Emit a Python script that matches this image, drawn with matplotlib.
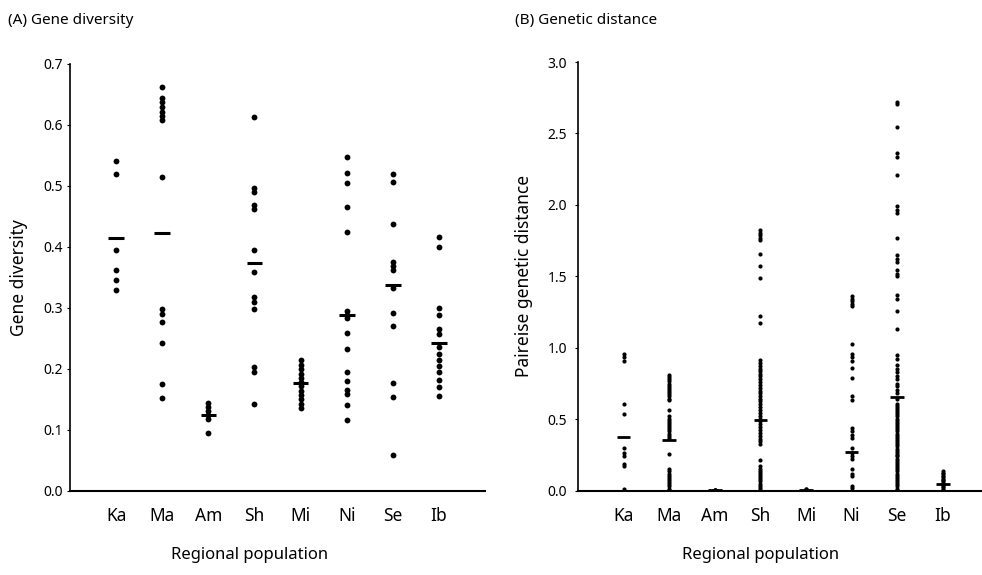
import numpy as np
import matplotlib
matplotlib.use("Agg")
import matplotlib.pyplot as plt

pops = ["Ka", "Ma", "Am", "Sh", "Mi", "Ni", "Se", "Ib"]

# (A) gene diversity per locus
div_ka = [0.541, 0.519, 0.395, 0.362, 0.345, 0.330]
div_ma = [0.662, 0.644, 0.637, 0.629, 0.622, 0.615, 0.608, 0.514, 0.298, 0.290, 0.277, 0.242, 0.175, 0.152]
div_am = [0.144, 0.138, 0.131, 0.124, 0.117, 0.094]
div_sh = [0.613, 0.496, 0.490, 0.468, 0.462, 0.395, 0.358, 0.317, 0.310, 0.298, 0.203, 0.194, 0.142]
div_mi = [0.214, 0.206, 0.199, 0.192, 0.185, 0.178, 0.171, 0.164, 0.157, 0.150, 0.143, 0.136]
div_ni = [0.547, 0.521, 0.504, 0.466, 0.425, 0.295, 0.289, 0.283, 0.258, 0.232, 0.194, 0.180, 0.166, 0.158, 0.141, 0.116]
div_se = [0.520, 0.507, 0.437, 0.376, 0.369, 0.362, 0.332, 0.292, 0.270, 0.176, 0.153, 0.058]
div_ib = [0.417, 0.400, 0.299, 0.288, 0.265, 0.257, 0.236, 0.225, 0.215, 0.205, 0.194, 0.182, 0.170, 0.155]
div_mean = [0.415, 0.422, 0.124, 0.373, 0.176, 0.289, 0.337, 0.243]

# (B) pairwise genetic distance
dist_ka = [0.955, 0.935, 0.91, 0.61, 0.54, 0.30, 0.265, 0.24, 0.185, 0.17, 0.01]
dist_ma = [0.81, 0.795, 0.78, 0.765, 0.75, 0.735, 0.72, 0.705, 0.69, 0.675, 0.66, 0.645, 0.635,
           0.565, 0.52, 0.505, 0.49, 0.475, 0.46, 0.445, 0.43, 0.415, 0.40, 0.385, 0.37, 0.255,
           0.15, 0.135, 0.12, 0.105, 0.09, 0.075, 0.06, 0.045, 0.03, 0.015, 0.005]
dist_am = [0.001, 0.003, 0.005, 0.004, 0.002]
dist_sh = [1.825, 1.805, 1.79, 1.77, 1.755, 1.655, 1.57, 1.49, 1.225, 1.175,
           0.915, 0.895, 0.875, 0.855, 0.835, 0.815, 0.80, 0.78, 0.76, 0.74, 0.72, 0.70, 0.685,
           0.665, 0.645, 0.625, 0.605, 0.585, 0.565, 0.545, 0.525, 0.505, 0.485, 0.465, 0.445,
           0.425, 0.405, 0.385, 0.365, 0.345, 0.325, 0.215, 0.17, 0.155, 0.14, 0.125, 0.11,
           0.095, 0.08, 0.065, 0.05, 0.035, 0.02, 0.005]
dist_mi = [0.003, 0.006, 0.009, 0.011, 0.008]
dist_ni = [1.365, 1.345, 1.325, 1.305, 1.29, 1.03, 0.955, 0.935, 0.905, 0.86, 0.79, 0.66, 0.635,
           0.44, 0.415, 0.39, 0.37, 0.30, 0.265, 0.24, 0.22, 0.155, 0.12, 0.10, 0.035, 0.02]
dist_se = [2.72, 2.705, 2.545, 2.36, 2.335, 2.21, 1.99, 1.965, 1.945, 1.77, 1.65, 1.625, 1.60,
           1.545, 1.52, 1.50, 1.37, 1.345, 1.255, 1.13, 0.95, 0.925, 0.88, 0.855, 0.83, 0.805,
           0.78, 0.75, 0.73, 0.705, 0.685, 0.64, 0.61, 0.595, 0.58, 0.565, 0.55, 0.535, 0.52,
           0.505, 0.49, 0.475, 0.46, 0.445, 0.43, 0.415, 0.40, 0.385, 0.37, 0.355, 0.34, 0.325,
           0.31, 0.295, 0.28, 0.265, 0.25, 0.24, 0.225, 0.21, 0.195, 0.18, 0.165, 0.15, 0.135,
           0.12, 0.105, 0.09, 0.075, 0.06, 0.045, 0.03, 0.015, 0.005]
dist_ib = [0.135, 0.125, 0.115, 0.105, 0.095, 0.085, 0.075, 0.065, 0.055, 0.045, 0.035, 0.025, 0.015, 0.005]
dist_mean = [0.378, 0.355, 0.003, 0.495, 0.008, 0.268, 0.658, 0.044]

div_all = [div_ka, div_ma, div_am, div_sh, div_mi, div_ni, div_se, div_ib]
dist_all = [dist_ka, dist_ma, dist_am, dist_sh, dist_mi, dist_ni, dist_se, dist_ib]

plt.rcParams["font.family"] = ["Noto Sans", "DejaVu Sans"]

fig = plt.figure(figsize=(9.82, 5.75), dpi=100)
axA = fig.add_axes([0.0713, 0.1466, 0.4226, 0.7421])
axB = fig.add_axes([0.5886, 0.1466, 0.4114, 0.7455])


def draw(ax, data, means, ms, bar_w, bar_lw):
    xs = np.arange(1, len(data) + 1)
    for x, vals in zip(xs, data):
        ax.plot([x] * len(vals), vals, "o", color="black", ms=ms, mec="none")
    ax.hlines(means, xs - bar_w, xs + bar_w, color="black", lw=bar_lw)
    ax.set_xticks(xs)
    ax.set_xticklabels(pops, fontsize=12.5)
    for s in ["top", "right"]:
        ax.spines[s].set_visible(False)
    ax.spines["left"].set_linewidth(1.2)
    ax.spines["bottom"].set_linewidth(1.5)
    ax.tick_params(axis="x", length=0, pad=12)
    ax.tick_params(axis="y", length=2, labelsize=10, pad=3)


draw(axA, div_all, div_mean, 4.2, 0.17, 2.2)
axA.set_xlim(0, 9)
axA.set_ylim(0, 0.7)
axA.set_yticks(np.arange(0, 0.71, 0.1))
axA.set_yticklabels(["%.1f" % v for v in np.arange(0, 0.71, 0.1)])

draw(axB, dist_all, dist_mean, 3.0, 0.15, 2.0)
axB.set_xlim(0, 8.86)
axB.set_ylim(0, 3.0)
axB.set_yticks(np.arange(0, 3.01, 0.5))
axB.set_yticklabels(["%.1f" % v for v in np.arange(0, 3.01, 0.5)])
axB.tick_params(axis="y", pad=6)

fig.text(0.008, 0.965, "(A) Gene diversity", fontsize=11, va="center")
fig.text(0.524, 0.965, "(B) Genetic distance", fontsize=11, va="center")
fig.text(0.254, 0.035, "Regional population", fontsize=12, ha="center", va="center")
fig.text(0.775, 0.035, "Regional population", fontsize=12, ha="center", va="center")
fig.text(0.019, 0.518, "Gene diversity", fontsize=12.5, rotation=90, ha="center", va="center")
fig.text(0.534, 0.52, "Paireise genetic distance", fontsize=12.5, rotation=90, ha="center", va="center")

plt.savefig("out.png", dpi=100)
